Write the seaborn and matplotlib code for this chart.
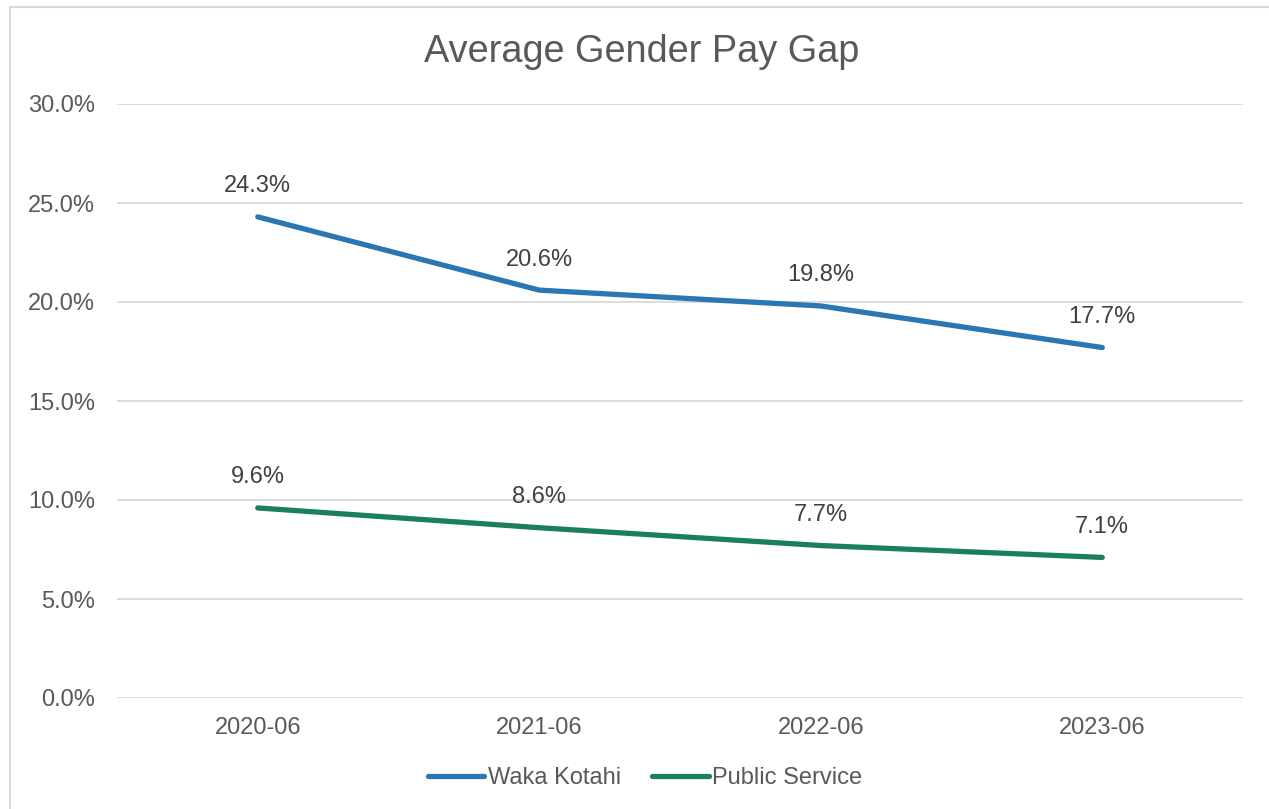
import matplotlib
matplotlib.use("Agg")
import matplotlib.pyplot as plt
import seaborn as sns
import pandas as pd
from matplotlib.lines import Line2D

periods = ["2020-06", "2021-06", "2022-06", "2023-06"]
waka_kotahi = [24.3, 20.6, 19.8, 17.7]
public_service = [9.6, 8.6, 7.7, 7.1]
series_names = ["Waka Kotahi", "Public Service"]
colors = ["#2A77B4", "#1B7E5E"]
yticks = [0, 5, 10, 15, 20, 25, 30]

df = pd.DataFrame({
    "period": periods * 2,
    "x": list(range(len(periods))) * 2,
    "value": waka_kotahi + public_service,
    "series": [series_names[0]] * len(periods) + [series_names[1]] * len(periods),
})

sns.set_theme(style="white")
plt.rcParams["font.family"] = ["Liberation Sans", "DejaVu Sans"]

FS = 17

fig = plt.figure(figsize=(12.69, 8.09), dpi=100)
ax = fig.add_axes([117 / 1269, 1 - 698 / 809, 1126 / 1269, 594 / 809])

sns.lineplot(data=df, x="x", y="value", hue="series", palette=colors,
             linewidth=3.8, ax=ax, legend=False, sort=False)
for line in ax.get_lines():
    line.set_solid_capstyle("round")

for _, row in df.iterrows():
    ax.annotate(f"{row['value']:.1f}%", (row["x"], row["value"]),
                xytext=(0, 22), textcoords="offset points",
                ha="center", va="center", fontsize=FS, color="#404040")

ax.set_xlim(-0.5, len(periods) - 0.5)
ax.set_ylim(0, 30)
ax.set_xticks(range(len(periods)))
ax.set_xticklabels(periods)
ax.set_yticks(yticks)
ax.set_yticklabels([f"{v:.1f}%" for v in yticks])
ax.tick_params(axis="both", labelsize=FS, colors="#595959", length=0)
ax.tick_params(axis="x", pad=14)
ax.tick_params(axis="y", pad=16)
ax.grid(axis="y", color="#D9D9D9", linewidth=1.3)
ax.grid(axis="x", visible=False)
for s in ax.spines.values():
    s.set_visible(False)
ax.set_xlabel("")
ax.set_ylabel("")

fig.text(642 / 1269, 1 - 52 / 809, "Average Gender Pay Gap", ha="center", va="center",
         fontsize=27.3, color="#595959")

handles = [Line2D([0], [0], color=c, linewidth=3.8, solid_capstyle="round") for c in colors]
leg = fig.legend(handles, series_names, loc="center", bbox_to_anchor=(645 / 1269, 1 - 778 / 809),
                 ncol=2, frameon=False, fontsize=FS, handlelength=2.4, handletextpad=0.15,
                 columnspacing=1.3)
for t in leg.get_texts():
    t.set_color("#595959")

fig.add_artist(Line2D([10 / 1269, 1], [1 - 7 / 809, 1 - 7 / 809], transform=fig.transFigure,
                      color="#D9D9D9", linewidth=1.5))
fig.add_artist(Line2D([10 / 1269, 10 / 1269], [0, 1 - 7 / 809], transform=fig.transFigure,
                      color="#D9D9D9", linewidth=1.5))

fig.savefig("out.png", dpi=100, facecolor="white")
